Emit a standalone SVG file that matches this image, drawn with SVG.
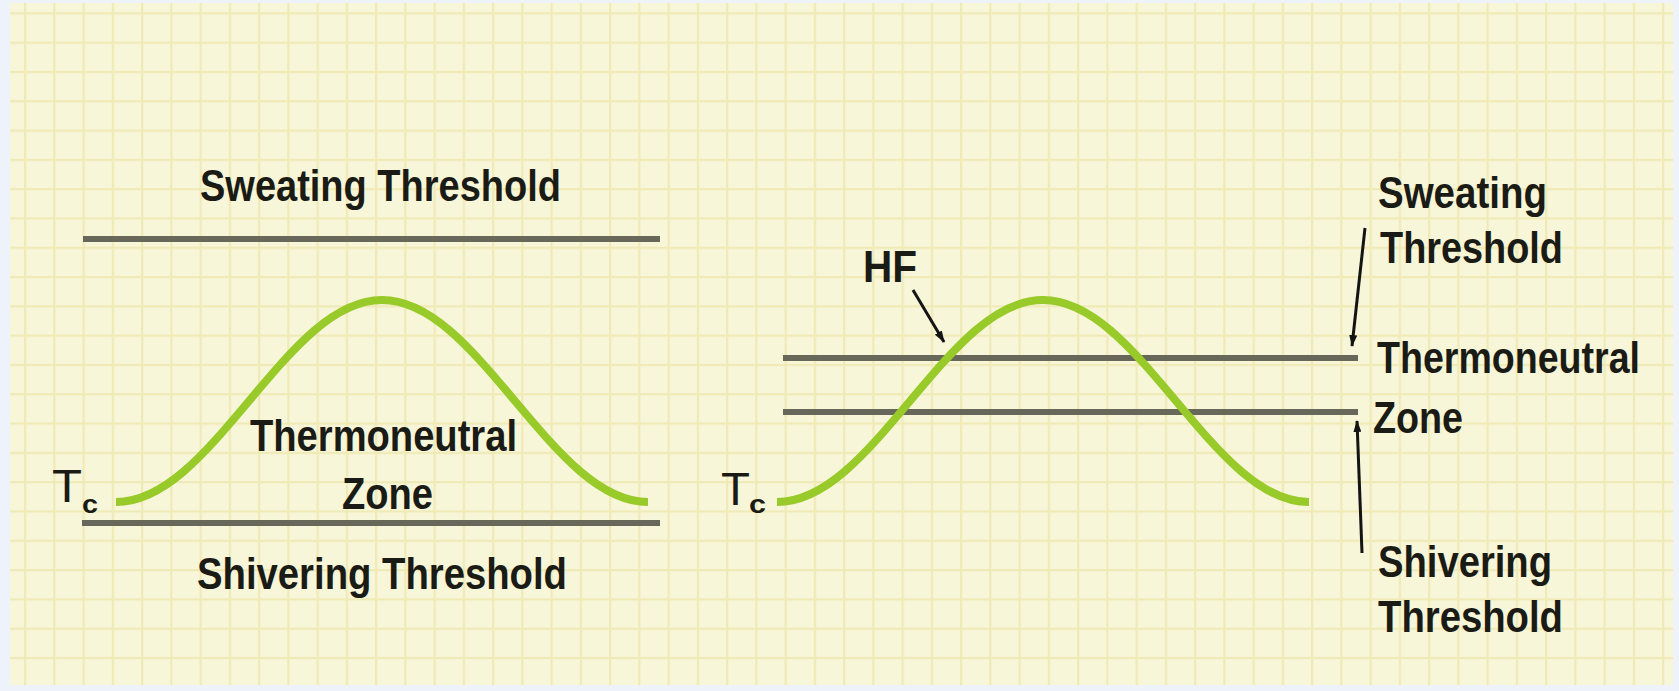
<svg xmlns="http://www.w3.org/2000/svg" width="1679" height="691" viewBox="0 0 1679 691">
<style>
.lbl{font-family:"Liberation Sans",Arial,sans-serif;font-weight:bold;font-size:44px;fill:#1b1b16}
.tc{font-family:"Liberation Sans",Arial,sans-serif;font-weight:normal;font-size:46px;fill:#1b1b16}
.sub{font-family:"Liberation Sans",Arial,sans-serif;font-weight:bold;font-size:26px;fill:#1b1b16}
.lvl{stroke:#67675a;stroke-width:6;fill:none}
.curve{stroke:#98ca2a;stroke-width:8;fill:none;stroke-linecap:butt}
.arr{stroke:#141414;stroke-width:3;fill:none}
</style>
<defs>
<pattern id="grid" x="24" y="12.3" width="29.25" height="29.3" patternUnits="userSpaceOnUse">
<rect x="0" y="0" width="29.25" height="29.3" fill="#f8f6d9"/>
<rect x="0" y="0" width="2.2" height="29.3" fill="#f0eab6"/>
<rect x="0" y="0" width="29.25" height="2.2" fill="#f0eab6"/>
</pattern>
<marker id="ah" viewBox="0 0 12 8" refX="11" refY="4" markerWidth="12" markerHeight="8" markerUnits="userSpaceOnUse" orient="auto">
<path d="M0,0 L12,4 L0,8 z" fill="#141414"/>
</marker>
</defs>
<rect x="0" y="0" width="1679" height="691" fill="#eef3fb"/>
<rect x="10" y="3" width="1663" height="682" fill="url(#grid)"/>

<g id="left-panel">
<line id="left-sweating-line" class="lvl" x1="83" y1="239" x2="660" y2="239"/>
<line id="left-shivering-line" class="lvl" x1="82" y1="523" x2="660" y2="523"/>
<path id="left-curve" class="curve" d="M116,502 C163.9,502 204.5,454 249,401 S334.1,300 382,300 S470.5,348 515,401 S600.1,502 648,502"/>
<text class="lbl" x="200" y="201" textLength="361" lengthAdjust="spacingAndGlyphs">Sweating Threshold</text>
<text class="lbl" x="250" y="451" textLength="267" lengthAdjust="spacingAndGlyphs">Thermoneutral</text>
<text class="lbl" x="342" y="509" textLength="91" lengthAdjust="spacingAndGlyphs">Zone</text>
<text class="lbl" x="197" y="589" textLength="370" lengthAdjust="spacingAndGlyphs">Shivering Threshold</text>
<text class="tc" x="52" y="502" textLength="30" lengthAdjust="spacingAndGlyphs">T</text>
<text class="sub" x="82" y="513" textLength="16" lengthAdjust="spacingAndGlyphs">c</text>
</g>

<g id="right-panel">
<line id="right-upper-line" class="lvl" x1="783" y1="358" x2="1358" y2="358"/>
<line id="right-lower-line" class="lvl" x1="783" y1="412" x2="1358" y2="412"/>
<path id="right-curve" class="curve" d="M777,502 C824.9,502 865.5,454 910,401 S995.1,300 1043,300 S1131.5,348 1176,401 S1261.1,502 1309,502"/>
<text class="tc" x="721" y="505" textLength="29" lengthAdjust="spacingAndGlyphs">T</text>
<text class="sub" x="749" y="513" textLength="17" lengthAdjust="spacingAndGlyphs">c</text>
<text class="lbl" x="863" y="282" textLength="54" lengthAdjust="spacingAndGlyphs">HF</text>
<text class="lbl" x="1378" y="208" textLength="169" lengthAdjust="spacingAndGlyphs">Sweating</text>
<text class="lbl" x="1380" y="263" textLength="183" lengthAdjust="spacingAndGlyphs">Threshold</text>
<text class="lbl" x="1377" y="373" textLength="263" lengthAdjust="spacingAndGlyphs">Thermoneutral</text>
<text class="lbl" x="1373" y="433" textLength="90" lengthAdjust="spacingAndGlyphs">Zone</text>
<text class="lbl" x="1378" y="577" textLength="174" lengthAdjust="spacingAndGlyphs">Shivering</text>
<text class="lbl" x="1378" y="632" textLength="185" lengthAdjust="spacingAndGlyphs">Threshold</text>
</g>

<g id="connectors">
<line id="hf-arrow" class="arr" x1="913" y1="290" x2="944" y2="342" marker-end="url(#ah)"/>
<line id="sweat-arrow" class="arr" x1="1365" y1="228" x2="1352" y2="346" marker-end="url(#ah)"/>
<line id="shiver-arrow" class="arr" x1="1362" y1="553" x2="1357" y2="421" marker-end="url(#ah)"/>
</g>
</svg>
